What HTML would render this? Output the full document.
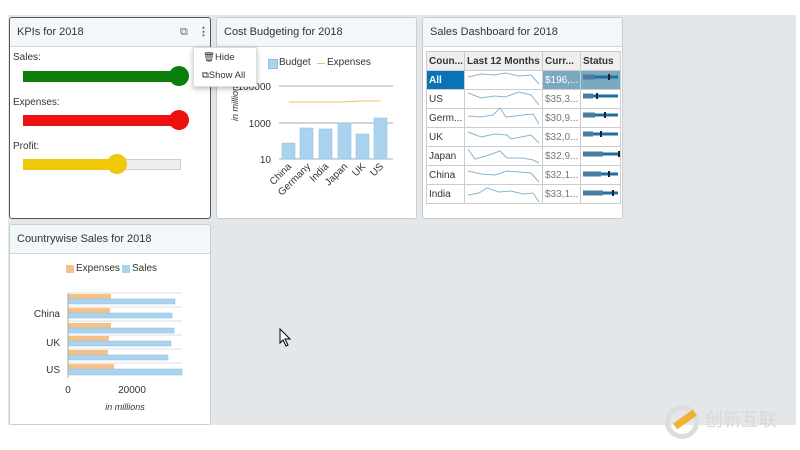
<!DOCTYPE html>
<html><head><meta charset="utf-8"><style>
body{margin:0;width:800px;height:450px;background:#fff;position:relative;overflow:hidden;font-family:"Liberation Sans","Noto Sans CJK SC",sans-serif;font-size:10px;color:#333}
.bg{position:absolute;left:8px;top:15px;width:788px;height:410px;background:#e3e7ea}
.p{position:absolute;background:#fff;border:1px solid #c8cdd2;border-radius:3px;box-sizing:border-box;overflow:hidden}
.h{height:28px;background:#f2f7f9;border-bottom:1px solid #d0d6da;font-size:11px;line-height:28px;padding-left:7px;color:#333}
.a{position:absolute}
td{border:1px solid #ccc;padding:0 2px;height:18px;font-size:10px;white-space:nowrap;overflow:hidden;text-overflow:clip}
table{border-collapse:collapse;table-layout:fixed}
</style></head><body>
<div class="bg"></div>
<!-- KPI -->
<div class="p" style="left:9px;top:17px;width:202px;height:202px;border:1.5px solid #555">
<div class="h">KPIs for 2018<span class="a" style="left:170px;top:0;font-size:11px;color:#666">⧉</span><span class="a" style="left:188px;top:0;font-weight:bold;color:#555">⋮</span></div>
<div class="a" style="left:3px;top:34px">Sales:</div>
<div class="a" style="left:13px;top:53px;width:160px;height:11px;background:#0a7d0a"></div>
<div class="a" style="left:159px;top:48px;width:20px;height:20px;border-radius:50%;background:#0a7d0a"></div>
<div class="a" style="left:3px;top:79px">Expenses:</div>
<div class="a" style="left:13px;top:97px;width:160px;height:11px;background:#ee1111"></div>
<div class="a" style="left:159px;top:92px;width:20px;height:20px;border-radius:50%;background:#ee1111"></div>
<div class="a" style="left:3px;top:123px">Profit:</div>
<div class="a" style="left:13px;top:141px;width:156px;height:9px;background:#eee;border:1px solid #ccc"></div>
<div class="a" style="left:13px;top:141px;width:100px;height:11px;background:#f0c808"></div>
<div class="a" style="left:97px;top:136px;width:20px;height:20px;border-radius:50%;background:#f0c808"></div>
</div>
<!-- Cost -->
<div class="p" style="left:216px;top:17px;width:201px;height:202px">
<div class="h">Cost Budgeting for 2018</div>
<div class="a" style="left:51px;top:41px;width:8px;height:8px;background:#a9d3ee;border:1px solid #8bbde0"></div>
<div class="a" style="left:62px;top:39px">Budget</div>
<div class="a" style="left:100px;top:45px;width:8px;height:1px;background:#f0c060"></div>
<div class="a" style="left:110px;top:39px">Expenses</div>
<svg class="a" style="left:0;top:0" width="201" height="202">
<text x="8" y="100" transform="rotate(-90 16 95)" font-size="9" font-style="italic" fill="#333" font-family="Liberation Sans">in millions</text>
<text x="54" y="72" font-size="10" text-anchor="end" fill="#333" font-family="Liberation Sans">100000</text>
<text x="54" y="109" font-size="10" text-anchor="end" fill="#333" font-family="Liberation Sans">1000</text>
<text x="54" y="145" font-size="10" text-anchor="end" fill="#333" font-family="Liberation Sans">10</text>
<line x1="62" y1="68" x2="176" y2="68" stroke="#aaa"/><line x1="62" y1="105" x2="176" y2="105" stroke="#aaa"/><line x1="62" y1="141" x2="176" y2="141" stroke="#aaa"/>
<polyline points="72,84 90,84 108,84 126,84 144,83 164,83" fill="none" stroke="#f0c060"/>
<g fill="#a9d3ee" stroke="#8bbde0" stroke-width=".5">
<rect x="65" y="125" width="13" height="16"/><rect x="83" y="110" width="13" height="31"/><rect x="102" y="111" width="13" height="30"/><rect x="121" y="105" width="13" height="36"/><rect x="139" y="116" width="13" height="25"/><rect x="157" y="100" width="13" height="41"/></g>
<g font-size="10" fill="#333" font-family="Liberation Sans" text-anchor="end">
<text transform="translate(75,149) rotate(-45)">China</text><text transform="translate(94,149) rotate(-45)">Germany</text><text transform="translate(112,149) rotate(-45)">India</text><text transform="translate(131,149) rotate(-45)">Japan</text><text transform="translate(149,149) rotate(-45)">UK</text><text transform="translate(167,149) rotate(-45)">US</text></g>
</svg>
</div>
<!-- menu -->
<div class="a" style="left:193px;top:47px;width:62px;height:38px;background:#fff;border:1px solid #ddd;box-shadow:0 2px 5px rgba(0,0,0,.25);font-size:9.5px">
<div style="position:absolute;left:9px;top:4px">🗑Hide</div><div style="position:absolute;left:8px;top:22px">⧉Show All</div></div>
<!-- Sales dashboard -->
<div class="p" style="left:422px;top:17px;width:201px;height:202px">
<div class="h">Sales Dashboard for 2018</div>
<table class="a" style="left:3px;top:33px;width:194px">
<colgroup><col style="width:38px"><col style="width:78px"><col style="width:38px"><col style="width:40px"></colgroup>
<tr style="background:#eee"><td style="font-weight:bold">Coun...</td><td style="font-weight:bold">Last 12 Months</td><td style="font-weight:bold">Curr...</td><td style="font-weight:bold">Status</td></tr>
<tr><td style="background:#0a73b7;color:#fff;font-weight:bold">All</td><td style="background:#fff"></td><td style="background:#7ba9c0;color:#fff">$196,...</td><td style="background:#7ba9c0"></td></tr>
<tr><td>US</td><td></td><td style="color:#777">$35,3...</td><td></td></tr>
<tr><td>Germ...</td><td></td><td style="color:#777">$30,9...</td><td></td></tr>
<tr><td>UK</td><td></td><td style="color:#777">$32,0...</td><td></td></tr>
<tr><td>Japan</td><td></td><td style="color:#777">$32,9...</td><td></td></tr>
<tr><td>China</td><td></td><td style="color:#777">$32,1...</td><td></td></tr>
<tr><td>India</td><td></td><td style="color:#777">$33,1...</td><td></td></tr>
</table>
<svg class="a" style="left:0;top:0" width="201" height="202" fill="none">
<g stroke="#8ab4cc" stroke-width="1">
<polyline points="45,59 58,56 72,57 82,55 96,58 108,57 116,66"/>
<polyline points="45,75 58,80 72,78 82,79 96,74 108,77 116,87"/>
<polyline points="45,98 58,99 70,97 77,90 83,99 100,97 110,96 116,106"/>
<polyline points="45,114 58,119 72,116 84,117 88,121 108,117 116,125"/>
<polyline points="45,131 52,141 66,137 77,133 84,140 100,140 110,142 116,145"/>
<polyline points="45,153 58,156 72,157 84,153 96,154 108,155 116,164"/>
<polyline points="45,177 56,175 64,170 76,174 88,173 100,176 110,175 116,184"/>
</g>
<g stroke-width="3" stroke="#1a6fa8">
<line x1="160" y1="59" x2="195" y2="59"/><line x1="160" y1="78" x2="195" y2="78"/><line x1="160" y1="97" x2="195" y2="97"/><line x1="160" y1="116" x2="195" y2="116"/><line x1="160" y1="136" x2="195" y2="136"/><line x1="160" y1="156" x2="195" y2="156"/><line x1="160" y1="175" x2="195" y2="175"/>
</g>
<g stroke-width="5" stroke="#4b7d9c"><line x1="160" y1="59" x2="172" y2="59"/><line x1="160" y1="78" x2="170" y2="78"/><line x1="160" y1="97" x2="172" y2="97"/><line x1="160" y1="116" x2="170" y2="116"/><line x1="160" y1="136" x2="180" y2="136"/><line x1="160" y1="156" x2="178" y2="156"/><line x1="160" y1="175" x2="180" y2="175"/></g>
<g stroke-width="2" stroke="#222"><line x1="186" y1="56" x2="186" y2="62"/><line x1="174" y1="75" x2="174" y2="81"/><line x1="182" y1="94" x2="182" y2="100"/><line x1="178" y1="113" x2="178" y2="119"/><line x1="196" y1="133" x2="196" y2="139"/><line x1="186" y1="153" x2="186" y2="159"/><line x1="190" y1="172" x2="190" y2="178"/></g>
</svg>
</div>
<!-- Countrywise -->
<div class="p" style="left:9px;top:224px;width:202px;height:201px">
<div class="h">Countrywise Sales for 2018</div>
<div class="a" style="left:56px;top:40px;width:8px;height:8px;background:#f6c089"></div>
<div class="a" style="left:66px;top:38px">Expenses</div>
<div class="a" style="left:112px;top:40px;width:8px;height:8px;background:#a9d3ee"></div>
<div class="a" style="left:122px;top:38px">Sales</div>
<svg class="a" style="left:0;top:0" width="202" height="201">
<g stroke="#ddd"><line x1="58" y1="68" x2="172" y2="68"/><line x1="58" y1="82" x2="172" y2="82"/><line x1="58" y1="96" x2="172" y2="96"/><line x1="58" y1="110" x2="172" y2="110"/><line x1="58" y1="124" x2="172" y2="124"/><line x1="58" y1="138" x2="172" y2="138"/></g>
<g fill="#f6c089"><rect x="58" y="69" width="43" height="5"/><rect x="58" y="83" width="42" height="5"/><rect x="58" y="98" width="43" height="5"/><rect x="58" y="111" width="41" height="5"/><rect x="58" y="125" width="40" height="5"/><rect x="58" y="139" width="46" height="5"/></g>
<g fill="#a9d3ee" stroke="#8bbde0" stroke-width=".5"><rect x="58" y="74" width="107" height="5"/><rect x="58" y="88" width="104" height="5"/><rect x="58" y="103" width="106" height="5"/><rect x="58" y="116" width="103" height="5"/><rect x="58" y="130" width="100" height="5"/><rect x="58" y="144" width="114" height="6"/></g>
<line x1="58" y1="68" x2="58" y2="153" stroke="#aaa"/>
<g font-size="10" fill="#333" font-family="Liberation Sans" text-anchor="end"><text x="50" y="92">China</text><text x="50" y="121">UK</text><text x="50" y="148">US</text></g>
<g font-size="10" fill="#333" font-family="Liberation Sans" text-anchor="middle"><text x="58" y="168">0</text><text x="122" y="168">20000</text><text x="115" y="185" font-style="italic" font-size="9">in millions</text></g>
</svg>
</div>
<!-- cursor -->
<svg class="a" style="left:279px;top:328px" width="14" height="20"><path d="M1,1 L1,15 L4,12 L7,18 L9,17 L6,11 L11,11 Z" fill="#fff" stroke="#000"/></svg>
<!-- watermark -->
<div class="a" style="left:665px;top:405px;width:34px;height:34px;border-radius:50%;border:5px solid #ddd;box-sizing:border-box"></div>
<div class="a" style="left:673px;top:416px;width:24px;height:7px;background:#f0b030;transform:rotate(-35deg)"></div>
<div class="a" style="left:705px;top:406px;font-size:18px;color:#d8d8d8;font-family:'Noto Sans CJK SC',sans-serif">创新互联</div>
</body></html>
